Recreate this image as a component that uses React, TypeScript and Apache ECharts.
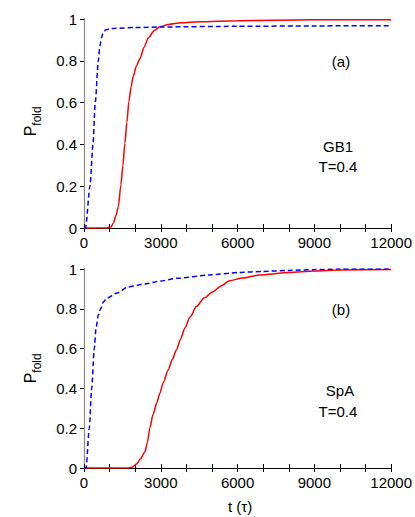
import React, { useEffect, useRef } from "react";
import * as echarts from "echarts";

// ---- Data (t in tau, P_fold) ----
const xTicks = [0, 3000, 6000, 9000, 12000];
const yTicks = [0, 0.2, 0.4, 0.6, 0.8, 1];

// Panel (a): GB1, T=0.4
const gb1Solid: [number, number][] = [
  [0, 0], [900, 0], [1050, 0.005], [1143, 0.022], [1250, 0.06], [1338, 0.1],
  [1442, 0.206], [1520, 0.3], [1597, 0.405], [1675, 0.505], [1753, 0.605],
  [1840, 0.675], [1922, 0.725], [2050, 0.775], [2182, 0.81], [2350, 0.865],
  [2506, 0.909], [2750, 0.945], [2961, 0.963], [3300, 0.974], [3800, 0.982],
  [4500, 0.987], [6000, 0.992], [9000, 0.996], [12000, 0.997],
];
const gb1Dashed: [number, number][] = [
  [0, 0], [60, 0], [234, 0.2], [350, 0.4], [440, 0.6], [560, 0.8],
  [620, 0.87], [680, 0.91], [750, 0.935], [850, 0.948], [1000, 0.953],
  [1130, 0.955], [2000, 0.959], [3000, 0.962], [6000, 0.965], [9000, 0.967],
  [12000, 0.968],
];

// Panel (b): SpA, T=0.4
const spaSolid: [number, number][] = [
  [0, 0], [1750, 0], [1900, 0.005], [2052, 0.02], [2200, 0.045], [2377, 0.08],
  [2480, 0.13], [2571, 0.2], [2700, 0.27], [2850, 0.33], [2961, 0.375],
  [3100, 0.43], [3286, 0.492], [3450, 0.545], [3610, 0.593], [3780, 0.65],
  [3935, 0.702], [4150, 0.76], [4390, 0.811], [4700, 0.855], [5039, 0.886],
  [5350, 0.915], [5688, 0.941], [6200, 0.955], [6857, 0.97], [8000, 0.983],
  [9000, 0.99], [10000, 0.995], [12000, 0.998],
];
const spaDashed: [number, number][] = [
  [0, 0], [80, 0], [207, 0.2], [300, 0.4], [402, 0.6], [467, 0.7],
  [560, 0.77], [650, 0.8], [760, 0.835], [884, 0.853], [1300, 0.88],
  [1727, 0.91], [2376, 0.925], [3000, 0.94], [3610, 0.953], [4909, 0.97],
  [6078, 0.983], [7000, 0.988], [8000, 0.993], [9000, 0.997], [10000, 1.0],
  [12000, 1.0],
];

const FONT = "Liberation Sans";

function buildAxes(gridIndex: number, showXLabel: boolean) {
  const xMin = xTicks[0];
  const xMax = xTicks[xTicks.length - 1];
  const xInt = xTicks[1] - xTicks[0];
  const yMin = yTicks[0];
  const yMax = yTicks[yTicks.length - 1];
  const yInt = yTicks[1] - yTicks[0];
  const xAxes = [
    {
      type: "value",
      gridIndex,
      position: "bottom",
      min: xMin,
      max: xMax,
      interval: xInt,
      axisLine: { show: true, lineStyle: { color: "#444", width: 1 } },
      axisTick: { show: true, inside: true, length: 4, lineStyle: { color: "#000" } },
      minorTick: { show: true, splitNumber: 3, length: 4, lineStyle: { color: "#000" } },
      axisLabel: {
        show: showXLabel,
        color: "#000",
        fontFamily: FONT,
        fontSize: 15,
        margin: 7,
        showMinLabel: true,
        showMaxLabel: true,
        formatter: (v: number) => String(v),
      },
      splitLine: { show: false },
    },
    {
      type: "value",
      gridIndex,
      position: "top",
      min: xMin,
      max: xMax,
      interval: xInt,
      axisLine: { show: true, lineStyle: { color: "#000", width: 1 } },
      axisTick: { show: true, inside: true, length: 4, lineStyle: { color: "#000" } },
      minorTick: { show: true, splitNumber: 3, length: 4, lineStyle: { color: "#000" } },
      axisLabel: { show: false },
      splitLine: { show: false },
    },
  ];
  const yAxes = [
    {
      type: "value",
      gridIndex,
      position: "left",
      min: yMin,
      max: yMax,
      interval: yInt,
      axisLine: { show: true, lineStyle: { color: "#000", width: 1 } },
      axisTick: { show: true, inside: false, length: 3, lineStyle: { color: "#000" } },
      axisLabel: {
        color: "#000",
        fontFamily: FONT,
        fontSize: 15,
        margin: 7,
        formatter: (v: number) => String(Math.round(v * 10) / 10),
      },
      splitLine: { show: false },
    },
    {
      type: "value",
      gridIndex,
      position: "right",
      min: yMin,
      max: yMax,
      interval: yInt,
      axisLine: { show: true, lineStyle: { color: "#888", width: 1.2 } },
      axisTick: { show: true, inside: true, length: 4, lineStyle: { color: "#000" } },
      axisLabel: { show: false },
      splitLine: { show: false },
    },
  ];
  return { xAxes, yAxes };
}

function textEl(text: string, x: number, y: number, size = 15, rotation = 0) {
  return {
    type: "text",
    x,
    y,
    rotation,
    style: {
      text,
      fill: "#000",
      fontFamily: FONT,
      fontSize: size,
      align: "center",
      verticalAlign: "middle",
    },
  };
}

export default function App() {
  const ref = useRef<HTMLDivElement>(null);

  useEffect(() => {
    if (!ref.current) return;
    const chart = echarts.init(ref.current, undefined, { renderer: "svg" });
    const a = buildAxes(0, true);
    const b = buildAxes(1, true);

    const solid = { color: "#ff0000", width: 1.5, type: "solid" };
    const dashed = { color: "#0000ff", width: 1.5, type: [5, 3] };

    const mkSeries = (data: [number, number][], xi: number, yi: number, ls: any, z: number) => ({
      type: "line",
      data,
      xAxisIndex: xi,
      yAxisIndex: yi,
      showSymbol: false,
      symbol: "none",
      smooth: 0.25,
      smoothMonotone: "x",
      lineStyle: ls,
      clip: true,
      z,
    });

    chart.setOption({
      animation: false,
      backgroundColor: "#fff",
      grid: [
        { left: 84, top: 19, width: 308, height: 209 },
        { left: 84, top: 269, width: 308, height: 199 },
      ],
      xAxis: [...a.xAxes, ...b.xAxes],
      yAxis: [...a.yAxes, ...b.yAxes],
      series: [
        mkSeries(gb1Solid, 0, 0, solid, 3),
        mkSeries(gb1Dashed, 0, 0, dashed, 4),
        mkSeries(spaSolid, 2, 2, solid, 3),
        mkSeries(spaDashed, 2, 2, dashed, 4),
      ],
      graphic: [
        textEl("P", 30, 131, 16, Math.PI / 2),
        textEl("fold", 37, 116, 12, Math.PI / 2),
        textEl("P", 30, 378, 16, Math.PI / 2),
        textEl("fold", 37, 363, 12, Math.PI / 2),
        textEl("(a)", 341, 61),
        textEl("GB1", 338, 146),
        textEl("T=0.4", 338, 166),
        textEl("(b)", 341, 309),
        textEl("SpA", 340, 390),
        textEl("T=0.4", 338, 411),
        textEl("t (τ)", 240, 506),
      ],
    });
    return () => chart.dispose();
  }, []);

  return (
    <div
      ref={ref}
      style={{ position: "fixed", left: 0, top: 0, width: 415, height: 517, background: "#fff" }}
    />
  );
}
